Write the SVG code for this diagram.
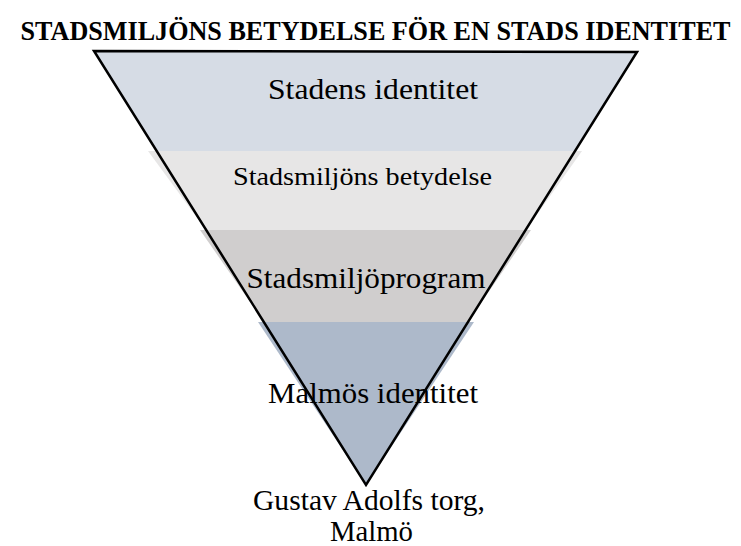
<svg xmlns="http://www.w3.org/2000/svg" width="741" height="546" viewBox="0 0 741 546">
<style>
  .lbl { font-family: "Liberation Serif", "Times New Roman", serif; fill: #000; text-anchor: middle; }
  .title { font-family: "Liberation Serif", "Times New Roman", serif; font-weight: bold; fill: #000; text-anchor: middle; }
  .outline { fill: none; stroke: #000; stroke-width: 2.5; stroke-linejoin: miter; }
</style>
<rect width="741" height="546" fill="#ffffff"/>
<text class="title" transform="translate(375.5,40) scale(1,1.17)" x="0" y="0" font-size="24" textLength="710" lengthAdjust="spacingAndGlyphs">STADSMILJÖNS BETYDELSE FÖR EN STADS IDENTITET</text>

<g id="level1">
  <polygon points="94,52 637,52 574,151 157,151" fill="#d6dce5"/>
  <text class="lbl" x="373" y="99" font-size="30" textLength="210" lengthAdjust="spacingAndGlyphs">Stadens identitet</text>
</g>
<g id="level2">
  <polygon points="148,151 582,151 526,230 206,230" fill="#e7e6e6"/>
  <text class="lbl" x="362.5" y="185" font-size="25" textLength="259" lengthAdjust="spacingAndGlyphs">Stadsmiljöns betydelse</text>
</g>
<g id="level3">
  <polygon points="200,230 531,230 468,322 264,322" fill="#d0cece"/>
  <text class="lbl" x="366" y="288" font-size="30" textLength="239" lengthAdjust="spacingAndGlyphs">Stadsmiljöprogram</text>
</g>
<g id="level4">
  <polygon points="258,322 474,322 366,485" fill="#adb9ca"/>
  <text class="lbl" x="373" y="403" font-size="30" textLength="210" lengthAdjust="spacingAndGlyphs">Malmös identitet</text>
</g>

<g id="connectors">
  <polygon class="outline" points="94,51 637,52 366,485"/>
</g>

<g id="base-label">
  <text class="lbl" x="369" y="510" font-size="30" textLength="232" lengthAdjust="spacingAndGlyphs">Gustav Adolfs torg,</text>
  <text class="lbl" x="371.5" y="541" font-size="30" textLength="83" lengthAdjust="spacingAndGlyphs">Malmö</text>
</g>
</svg>
